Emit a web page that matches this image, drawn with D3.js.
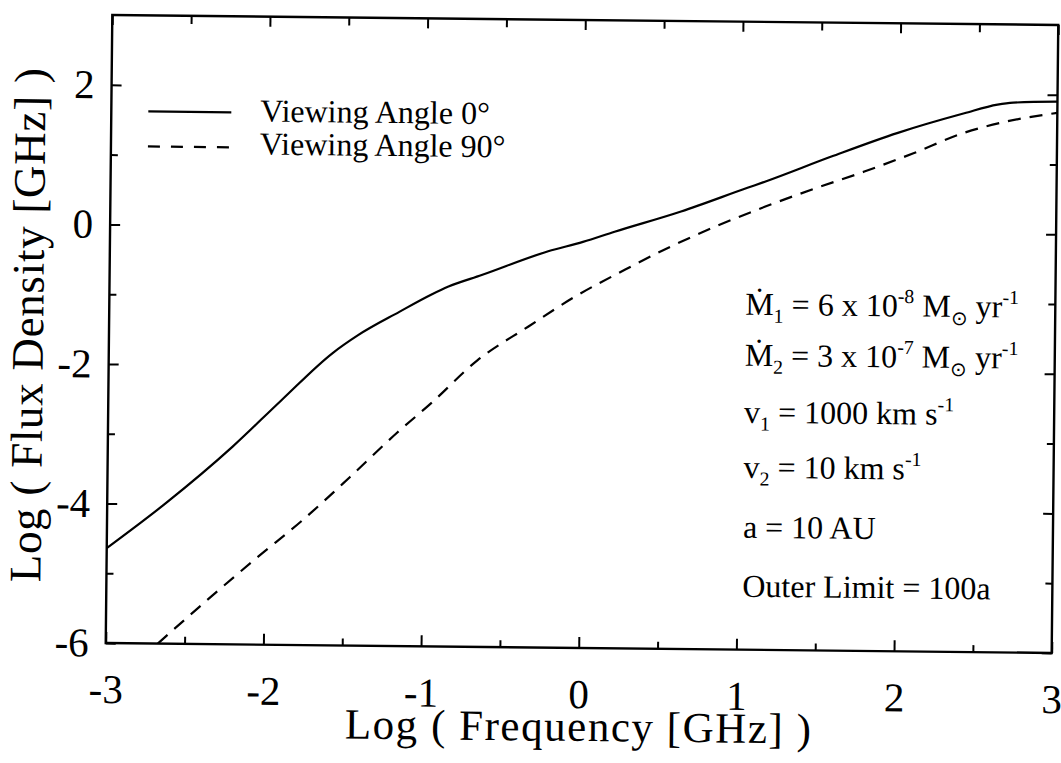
<!DOCTYPE html>
<html>
<head>
<meta charset="utf-8">
<script src="https://cdn.jsdelivr.net/npm/d3@7"></script>
<style>
  body { margin: 0; background: #fff; }
  svg text { font-family: "Liberation Serif", "Times New Roman", serif; fill: #000; }
</style>
</head>
<body>
<svg id="chart" width="1061" height="763"></svg>
<script>
// Spectrum seen face-on (viewing angle 0°)
const freq0 = [-3.0, -2.63, -2.21, -1.90, -1.58, -1.42, -1.16, -0.96, -0.85, -0.64, -0.22, 0.0, 0.20, 0.62, 1.04, 1.15, 1.57, 1.99, 2.41, 2.62, 2.72, 3.0];
const flux0 = [-4.64, -3.99, -3.17, -2.49, -1.81, -1.55, -1.21, -0.96, -0.84, -0.67, -0.32, -0.18, -0.03, 0.27, 0.62, 0.71, 1.08, 1.43, 1.72, 1.85, 1.88, 1.90];

// Spectrum seen edge-on (viewing angle 90°)
const freq90 = [-2.67, -2.37, -2.05, -1.76, -1.46, -1.17, -0.95, -0.66, -0.34, -0.05, 0.27, 0.56, 0.84, 1.15, 1.48, 1.78, 2.09, 2.41, 2.68, 3.0];
const flux90 = [-6.0, -5.39, -4.76, -4.21, -3.58, -2.95, -2.51, -1.89, -1.40, -0.97, -0.57, -0.23, 0.06, 0.35, 0.63, 0.87, 1.14, 1.44, 1.61, 1.74];

// Axis ticks
const xMajorTicks = [-3, -2, -1, 0, 1, 2, 3];
const xMinorTicks = [-2.5, -1.5, -0.5, 0.5, 1.5, 2.5];
const yMajorTicks = [-6, -4, -2, 0, 2];
const yMinorTicks = [-5, -3, -1, 1];

const xTitle = "Log ( Frequency [GHz] )";
const yTitle = "Log ( Flux Density [GHz] )";

const seriesNames = ["Viewing Angle 0°", "Viewing Angle 90°"];

// Model parameters, as [text, position] pieces
const paramLines = [
  [["Ṁ", ""], ["1", "sub"], [" = 6 x 10", ""], ["-8", "sup"], [" M", ""], ["⊙", "sub"], [" yr", ""], ["-1", "sup"]],
  [["Ṁ", ""], ["2", "sub"], [" = 3 x 10", ""], ["-7", "sup"], [" M", ""], ["⊙", "sub"], [" yr", ""], ["-1", "sup"]],
  [["v", ""], ["1", "sub"], [" = 1000 km s", ""], ["-1", "sup"]],
  [["v", ""], ["2", "sub"], [" = 10 km s", ""], ["-1", "sup"]],
  [["a = 10 AU", ""]],
  [["Outer Limit = 100a", ""]]
];

// ---- layout ----
const L = 109, R = 1055, T = 20, B = 648;
const svg = d3.select("#chart");
const root = svg.append("g").attr("transform", "rotate(0.6, 582, 334)");

const x = d3.scaleLinear().domain([-3, 3]).range([L, R]);
const y = d3.scaleLinear().domain([-6, 3]).range([B, T]);

// clip for curves
svg.append("defs").append("clipPath").attr("id", "plotClip")
  .append("rect").attr("x", L).attr("y", T).attr("width", R - L).attr("height", B - T);

// ticks (pointing inward on all four sides)
function styleAxis(g) {
  g.select(".domain").remove();
  g.selectAll(".tick line").attr("stroke", "#000").attr("stroke-width", 2);
  g.selectAll(".tick text").style("font-size", "41px");
}
const fmt = d => d3.format("d")(d).replace("−", "-");

root.append("g").attr("transform", `translate(0,${B})`)
  .call(d3.axisBottom(x).tickValues(xMajorTicks).tickSize(-11).tickPadding(31).tickFormat(fmt))
  .call(styleAxis);
root.append("g").attr("transform", `translate(0,${B})`)
  .call(d3.axisBottom(x).tickValues(xMinorTicks).tickSize(-7).tickFormat(""))
  .call(styleAxis);
root.append("g").attr("transform", `translate(0,${T})`)
  .call(d3.axisTop(x).tickValues(xMajorTicks).tickSize(-10).tickFormat(""))
  .call(styleAxis);
root.append("g").attr("transform", `translate(0,${T})`)
  .call(d3.axisTop(x).tickValues(xMinorTicks).tickSize(-8).tickFormat(""))
  .call(styleAxis);

root.append("g").attr("transform", `translate(${L},0)`)
  .call(d3.axisLeft(y).tickValues(yMajorTicks).tickSize(-10).tickPadding(17).tickFormat(fmt))
  .call(styleAxis);
root.append("g").attr("transform", `translate(${L},0)`)
  .call(d3.axisLeft(y).tickValues(yMinorTicks).tickSize(-7).tickFormat(""))
  .call(styleAxis);
root.append("g").attr("transform", `translate(${R},0)`)
  .call(d3.axisRight(y).tickValues(yMajorTicks).tickSize(-10).tickFormat(""))
  .call(styleAxis);
root.append("g").attr("transform", `translate(${R},0)`)
  .call(d3.axisRight(y).tickValues(yMinorTicks).tickSize(-7).tickFormat(""))
  .call(styleAxis);

// frame
root.append("rect")
  .attr("x", L).attr("y", T).attr("width", R - L).attr("height", B - T)
  .attr("fill", "none").attr("stroke", "#000").attr("stroke-width", 2.4);

// curves
const line = d3.line().x(d => x(d[0])).y(d => y(d[1])).curve(d3.curveMonotoneX);
const curves = root.append("g").attr("clip-path", "url(#plotClip)");
curves.append("path")
  .datum(d3.zip(freq0, flux0))
  .attr("d", line).attr("fill", "none").attr("stroke", "#000").attr("stroke-width", 2.2);
curves.append("path")
  .datum(d3.zip(freq90, flux90))
  .attr("d", line).attr("fill", "none").attr("stroke", "#000").attr("stroke-width", 2.2)
  .attr("stroke-dasharray", "13,9");

// legend
const legendRows = [
  { name: seriesNames[0], dash: null, ly: 116, ty: 125 },
  { name: seriesNames[1], dash: "12,11", ly: 151, ty: 158 }
];
legendRows.forEach(r => {
  root.append("line")
    .attr("x1", 146).attr("x2", 229).attr("y1", r.ly).attr("y2", r.ly)
    .attr("stroke", "#000").attr("stroke-width", 2.2)
    .attr("stroke-dasharray", r.dash);
  root.append("text").attr("x", 258).attr("y", r.ty)
    .style("font-size", "32px").text(r.name);
});

// parameter block
const paramY = [313, 364, 421, 476, 536, 595];
const base = 32;
paramLines.forEach((segs, i) => {
  const t = root.append("text").attr("x", 745).attr("y", paramY[i]).style("font-size", base + "px");
  let off = 0;
  segs.forEach(([txt, kind]) => {
    const target = kind === "sup" ? -0.42 * base : kind === "sub" ? 0.24 * base : 0;
    t.append("tspan")
      .attr("dy", target - off)
      .style("font-size", kind ? (0.62 * base) + "px" : base + "px")
      .text(txt);
    off = target;
  });
});

// axis titles
root.append("text")
  .attr("x", (L + R) / 2).attr("y", 741)
  .attr("text-anchor", "middle").style("font-size", "43px")
  .attr("textLength", 466).attr("lengthAdjust", "spacing")
  .text(xTitle);
root.append("text")
  .attr("transform", "translate(43,331) rotate(-90)")
  .attr("text-anchor", "middle").style("font-size", "45px")
  .attr("textLength", 514).attr("lengthAdjust", "spacing")
  .text(yTitle);
</script>
</body>
</html>
